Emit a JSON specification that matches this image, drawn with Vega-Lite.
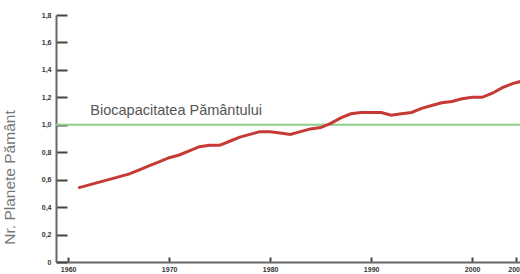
{
  "$schema": "https://vega.github.io/schema/vega-lite/v6.json",
  "autosize": "none",
  "width": 464,
  "height": 247,
  "padding": {"left": 56, "top": 15, "right": 0, "bottom": 12},
  "background": "white",
  "config": {"view": {"stroke": null}, "axis": {"labelOverlap": false, "labelBound": false, "labelFlush": false}},
  "datasets": {
    "footprint": [
      {"year": 1961, "value": 0.54}, {"year": 1962, "value": 0.56}, {"year": 1963, "value": 0.58},
      {"year": 1964, "value": 0.60}, {"year": 1965, "value": 0.62}, {"year": 1966, "value": 0.64},
      {"year": 1967, "value": 0.67}, {"year": 1968, "value": 0.70}, {"year": 1969, "value": 0.73},
      {"year": 1970, "value": 0.76}, {"year": 1971, "value": 0.78}, {"year": 1972, "value": 0.81},
      {"year": 1973, "value": 0.84}, {"year": 1974, "value": 0.85}, {"year": 1975, "value": 0.85},
      {"year": 1976, "value": 0.88}, {"year": 1977, "value": 0.91}, {"year": 1978, "value": 0.93},
      {"year": 1979, "value": 0.95}, {"year": 1980, "value": 0.95}, {"year": 1981, "value": 0.94},
      {"year": 1982, "value": 0.93}, {"year": 1983, "value": 0.95}, {"year": 1984, "value": 0.97},
      {"year": 1985, "value": 0.98}, {"year": 1986, "value": 1.01}, {"year": 1987, "value": 1.05},
      {"year": 1988, "value": 1.08}, {"year": 1989, "value": 1.09}, {"year": 1990, "value": 1.09},
      {"year": 1991, "value": 1.09}, {"year": 1992, "value": 1.07}, {"year": 1993, "value": 1.08},
      {"year": 1994, "value": 1.09}, {"year": 1995, "value": 1.12}, {"year": 1996, "value": 1.14},
      {"year": 1997, "value": 1.16}, {"year": 1998, "value": 1.17}, {"year": 1999, "value": 1.19},
      {"year": 2000, "value": 1.20}, {"year": 2001, "value": 1.20}, {"year": 2002, "value": 1.23},
      {"year": 2003, "value": 1.27}, {"year": 2004, "value": 1.30}, {"year": 2005, "value": 1.32}
    ],
    "biocap": [{"year": 1958.8, "value": 1.0}, {"year": 2004.74, "value": 1.0}],
    "bio": [{"year": 1962.2, "value": 1.05, "label": "Biocapacitatea Pământului"}]
  },
  "encoding": {
    "x": {
      "field": "year", "type": "quantitative",
      "scale": {"domain": [1958.8, 2004.74], "nice": false, "zero": false},
      "axis": {
        "title": null, "values": [1960, 1970, 1980, 1990, 2000, 2004.3],
        "labelExpr": "datum.value > 2003 ? '2005' : datum.label",
        "format": "d", "grid": false,
        "domainColor": "#666", "domainWidth": 2,
        "tickColor": "#444", "tickSize": -5, "tickWidth": 2,
        "labelFontSize": 7, "labelFont": "Liberation Sans", "labelFontWeight": "bold",
        "labelColor": "#333", "labelPadding": 8
      }
    },
    "y": {
      "field": "value", "type": "quantitative",
      "scale": {"domain": [0, 1.8], "nice": false},
      "axis": {
        "values": [0, 0.2, 0.4, 0.6, 0.8, 1.0, 1.2, 1.4, 1.6, 1.8],
        "labelExpr": "datum.value == 0 ? '0' : replace(format(datum.value, '.1f'), '.', ',')",
        "grid": false,
        "domainColor": "#666", "domainWidth": 2,
        "tickColor": "#444", "tickSize": -11, "tickWidth": 2,
        "labelFontSize": 7, "labelFont": "Liberation Sans", "labelFontWeight": "bold",
        "labelColor": "#333", "labelPadding": 16,
        "title": "Nr. Planete Pământ",
        "titleFont": "Liberation Sans", "titleFontSize": 15.5, "titleFontWeight": "normal",
        "titleColor": "#777", "titleX": -39, "titleY": 162, "titleAngle": -90,
        "titleAlign": "center", "titleBaseline": "bottom"
      }
    }
  },
  "layer": [
    {
      "data": {"name": "biocap"},
      "mark": {"type": "line", "color": "#8ccf8c", "strokeWidth": 2}
    },
    {
      "data": {"name": "footprint"},
      "mark": {"type": "line", "color": "#c53a34", "strokeWidth": 3, "clip": true}
    },
    {
      "data": {"name": "bio"},
      "mark": {"type": "text", "align": "left", "baseline": "bottom", "font": "Liberation Sans", "fontSize": 14.5, "color": "#555"},
      "encoding": {"text": {"field": "label"}}
    }
  ]
}
